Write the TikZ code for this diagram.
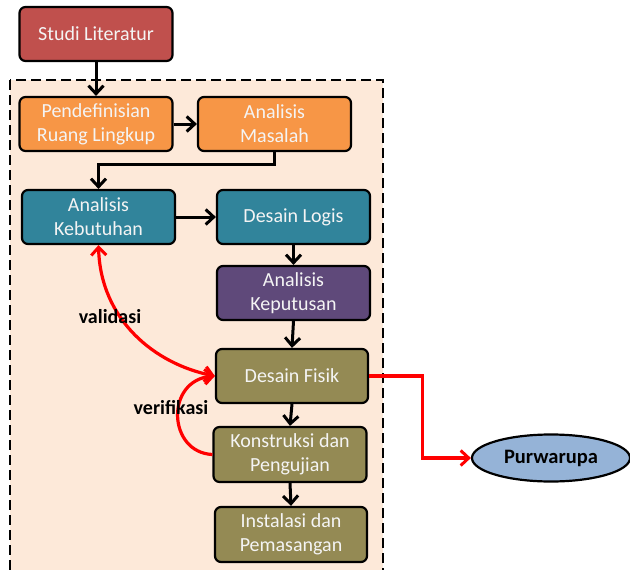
\documentclass[tikz,border=0pt]{standalone}
\usepackage{fontspec}
\setmainfont{Carlito}
\usetikzlibrary{arrows.meta,shapes.geometric}
\definecolor{cRed}{HTML}{C0504D}
\definecolor{cOrange}{HTML}{F79646}
\definecolor{cTeal}{HTML}{31849B}
\definecolor{cPurple}{HTML}{5F497A}
\definecolor{cOlive}{HTML}{948A54}
\definecolor{cPeach}{HTML}{FDE9D9}
\definecolor{cBlue}{HTML}{95B3D7}
\definecolor{cText}{HTML}{F4F4F4}
\tikzset{
  box/.style={draw=black, line width=2.2pt, rounded corners=6pt, minimum width=153pt, minimum height=54pt,
    align=center, inner sep=2pt, text=cText, font=\fontsize{20}{24}\selectfont},
  mytip/.tip={Straight Barb[length=8pt,width=15pt,line width=3pt]},
  flow/.style={draw=black, line width=3pt, -{mytip}},
  redflow/.style={draw=red, line width=3.2pt, -{mytip}},
  lbl/.style={font=\bfseries\fontsize{20}{22}\selectfont, text=black}
}
\begin{document}
\begin{tikzpicture}[x=1pt,y=-1pt]
\useasboundingbox (0,0) rectangle (630,570);
\clip (0,0) rectangle (630,570);
\draw[fill=cPeach, line width=2.2pt, dash pattern=on 10pt off 5pt] (10,80) rectangle (383,600);
\node[box, fill=cRed] (studi) at (96,34) {Studi Literatur};
\node[box, fill=cOrange] (pend) at (96,124) {Pendefinisian\\Ruang Lingkup};
\node[box, fill=cOrange] (masalah) at (274.5,124) {Analisis\\Masalah};
\node[box, fill=cTeal] (kebutuhan) at (98.5,217) {Analisis\\Kebutuhan};
\node[box, fill=cTeal] (logis) at (293.5,217) {Desain Logis};
\node[box, fill=cPurple] (keputusan) at (293.5,293) {Analisis\\Keputusan};
\node[box, fill=cOlive, minimum width=152pt] (fisik) at (292,376) {Desain Fisik};
\node[box, fill=cOlive, minimum height=55pt] (konstruksi) at (290,454.5) {Konstruksi dan\\Pengujian};
\node[box, fill=cOlive, minimum height=55pt, minimum width=152pt] (instalasi) at (291,534.5) {Instalasi dan\\Pemasangan};
\node[ellipse, draw=black, line width=2.2pt, fill=cBlue, minimum width=158pt, minimum height=47pt,
  font=\bfseries\fontsize{20.5}{22}\selectfont] (purwarupa) at (551,458) {Purwarupa};

\draw[flow] (studi.south) -- (pend.north);
\draw[flow] (pend.east) -- (masalah.west);
\draw[flow] (masalah.south) -- ++(0,12) -| (kebutuhan.north);
\draw[flow] (kebutuhan.east) -- (logis.west);
\draw[flow] (logis.south) -- (keputusan.north);
\draw[flow] (keputusan.south) -- (fisik.north);
\draw[flow] (fisik.south) -- (konstruksi.north);
\draw[flow] (konstruksi.south) -- (instalasi.north);

\draw[redflow] (fisik.east) -- ++(53,0) |- (purwarupa.west);
\draw[redflow, {mytip}-{mytip}]
  (kebutuhan.south) .. controls ++(2,75) and ++(-60,-12) .. (fisik.west);
\draw[redflow] (konstruksi.west) .. controls ++(-45,-2) and ++(-50,4) .. (fisik.west);

\node[lbl] (validasi) at (110,317) {validasi};
\node[lbl] (verifikasi) at (171,408) {verifikasi};
\end{tikzpicture}
\end{document}
